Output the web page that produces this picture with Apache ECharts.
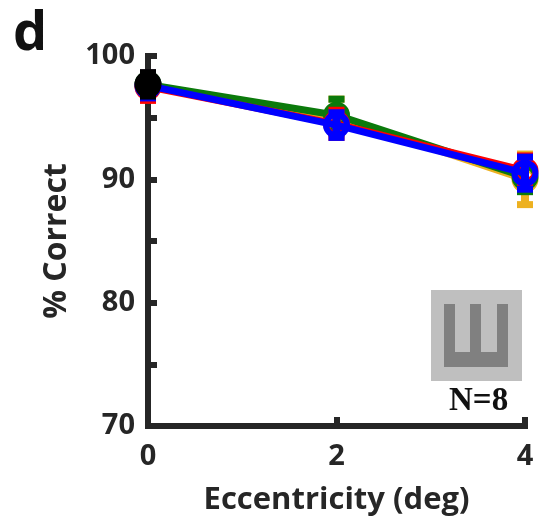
<!DOCTYPE html>
<html><head><meta charset="utf-8">
<style>html,body{margin:0;padding:0;background:#fff}#c{width:545px;height:521px}</style>
<script src="https://cdn.jsdelivr.net/npm/echarts@6/dist/echarts.min.js"></script>
</head><body><div id="c"></div>
<script>
const eccentricity = [0, 2, 4];
const yTickLabels = [70, 80, 90, 100];
const orangeMean = [97.6, 95.1, 90.0];
const orangeErr = [0.9, 1.4, 2.05];
const greenMean = [97.7, 95.2, 90.2];
const greenErr = [0.9, 1.3, 1.2];
const redMean = [97.5, 94.5, 90.7];
const redErr = [1.1, 1.1, 1.2];
const blueMean = [97.6, 94.4, 90.5];
const blueErr = [1.0, 1.0, 1.3];
const blackMean = [97.7];
const blackErr = [0.95];
const seriesDefs = [
  ['Orange', '#EDB120', orangeMean, orangeErr],
  ['Green', '#0B7A0B', greenMean, greenErr],
  ['Red', '#FF0000', redMean, redErr],
  ['Blue', '#0000FF', blueMean, blueErr],
  ['Black', '#000000', blackMean, blackErr]
];
const font = '"Open Sans", Lato, sans-serif';
const ink = '#262626';
const series = [];
seriesDefs.forEach(([name, color, mean, err], k) => {
  series.push({
    type: 'line', name, z: 2 + k * 2, silent: true, clip: false,
    data: mean.map((m, i) => [eccentricity[i], m]),
    lineStyle: { color, width: 7 },
    symbol: 'circle', symbolSize: 21,
    itemStyle: { color: name === 'Black' ? '#000' : 'rgba(0,0,0,0)', borderColor: color, borderWidth: 6 },
    showSymbol: true, animation: false
  });
  series.push({
    type: 'custom', name, z: 3 + k * 2, silent: true, clip: false,
    data: mean.map((m, i) => [eccentricity[i], m, err[i]]),
    renderItem(params, api) {
      const x = api.value(0), m = api.value(1), e = api.value(2);
      const hi = api.coord([x, m + e]), lo = api.coord([x, m - e]);
      const cap = 8;
      return { type: 'group', children: [
        { type: 'line', shape: { x1: hi[0], y1: hi[1], x2: lo[0], y2: lo[1] }, style: { stroke: color, lineWidth: 8, fill: null } },
        { type: 'line', shape: { x1: hi[0] - cap, y1: hi[1], x2: hi[0] + cap, y2: hi[1] }, style: { stroke: color, lineWidth: 7, fill: null } },
        { type: 'line', shape: { x1: lo[0] - cap, y1: lo[1], x2: lo[0] + cap, y2: lo[1] }, style: { stroke: color, lineWidth: 7, fill: null } }
      ]};
    }
  });
});
const chart = echarts.init(document.getElementById('c'), null, { renderer: 'canvas' });
chart.setOption({
  animation: false,
  backgroundColor: '#fff',
  grid: { left: 148, right: 20, top: 56, bottom: 95 },
  xAxis: {
    type: 'value', min: 0, max: 4, interval: 2,
    name: 'Eccentricity (deg)', nameLocation: 'middle', nameGap: 59,
    nameTextStyle: { fontFamily: font, fontWeight: 'bold', fontSize: 31, color: ink },
    axisLine: { show: true, lineStyle: { color: ink, width: 6, cap: 'square' } },
    axisTick: { show: true, inside: true, length: 9, lineStyle: { color: ink, width: 6 } },
    axisLabel: { fontFamily: font, fontWeight: 'bold', fontSize: 29, color: ink, margin: 16, showMinLabel: true, showMaxLabel: true },
    splitLine: { show: false }
  },
  yAxis: {
    type: 'value', min: 70, max: 100, interval: 5,
    name: '% Correct', nameLocation: 'middle', nameGap: 75,
    nameTextStyle: { fontFamily: font, fontWeight: 'bold', fontSize: 32, color: ink },
    axisLine: { show: true, lineStyle: { color: ink, width: 6, cap: 'square' } },
    axisTick: { show: true, inside: true, length: 9, lineStyle: { color: ink, width: 6 } },
    axisLabel: { fontFamily: font, fontWeight: 'bold', fontSize: 29, color: ink, margin: 13,
      showMinLabel: true, showMaxLabel: true,
      formatter: v => yTickLabels.includes(v) ? String(v) : '' },
    splitLine: { show: false }
  },
  graphic: [
    { type: 'text', left: 13, top: 8, style: { text: 'd', font: 'bold 54px ' + font, fill: '#111' } },
    { type: 'rect', shape: { x: 431, y: 290, width: 91, height: 91 }, style: { fill: '#BFBFBF' }, z: 1 },
    { type: 'rect', shape: { x: 444, y: 304, width: 11, height: 63 }, style: { fill: '#808080' }, z: 2 },
    { type: 'rect', shape: { x: 470, y: 304, width: 11, height: 63 }, style: { fill: '#808080' }, z: 2 },
    { type: 'rect', shape: { x: 497, y: 304, width: 11, height: 63 }, style: { fill: '#808080' }, z: 2 },
    { type: 'rect', shape: { x: 444, y: 352, width: 64, height: 15 }, style: { fill: '#808080' }, z: 2 },
    { type: 'text', left: 449, top: 385, style: { text: 'N=8', font: 'bold 33px "Liberation Serif", serif', fill: '#111' } }
  ],
  series
});
</script></body></html>
